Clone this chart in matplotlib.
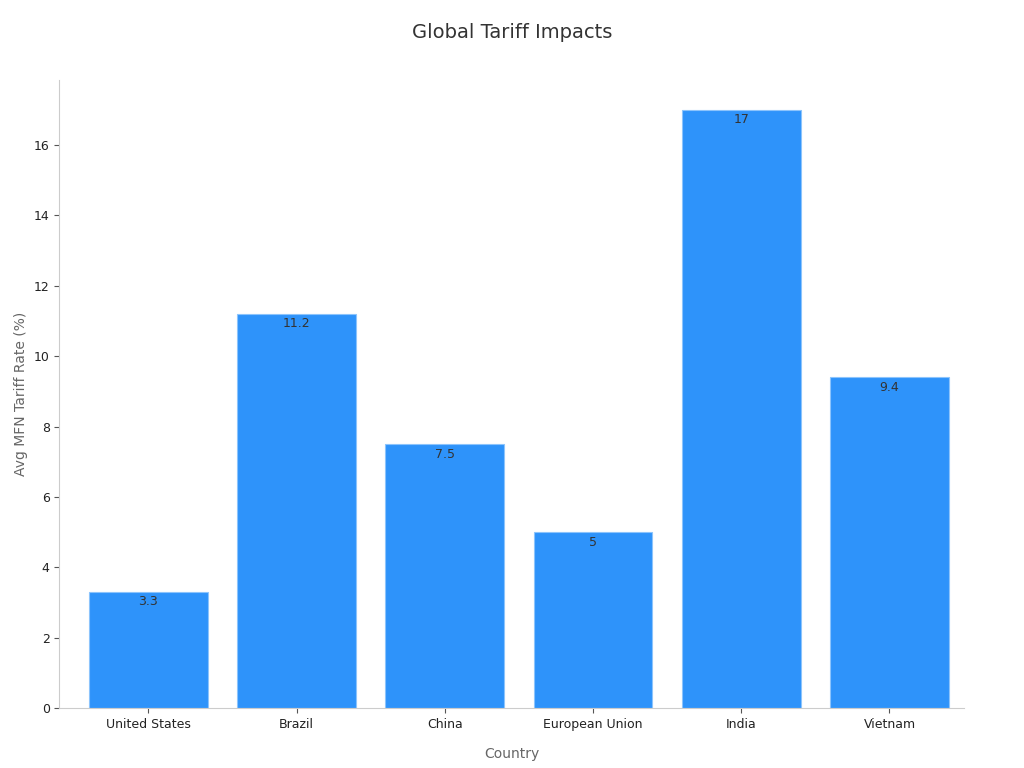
import matplotlib
matplotlib.use("Agg")
import matplotlib.pyplot as plt

countries = ["United States", "Brazil", "China", "European Union", "India", "Vietnam"]
rates = [3.3, 11.2, 7.5, 5, 17, 9.4]
labels = ["3.3", "11.2", "7.5", "5", "17", "9.4"]

fig = plt.figure(figsize=(10.24, 7.68), dpi=100)
ax = fig.add_axes([0.058, 0.078, 0.883, 0.818])
bars = ax.bar(countries, rates, width=0.8, color="#2E93FA", edgecolor="#8cc4fc", linewidth=0.8)
for b, l in zip(bars, labels):
    ax.text(b.get_x() + b.get_width()/2, b.get_height() - 0.1, l, ha="center", va="top",
            fontsize=9, color="#333333")
ax.set_xlim(-0.6, 5.5)
ax.set_ylim(0, 17.85)
ax.set_yticks(range(0, 17, 2))
for s in ["top", "right"]:
    ax.spines[s].set_visible(False)
for s in ["left", "bottom"]:
    ax.spines[s].set_color("#cccccc")
ax.tick_params(colors="#222222", labelsize=9)
ax.tick_params(axis="both", color="#555555")
ax.set_xlabel("Country", fontsize=10, color="#666666", labelpad=12)
ax.set_ylabel("Avg MFN Tariff Rate (%)", fontsize=10, color="#666666")
fig.suptitle("Global Tariff Impacts", fontsize=14, color="#333333", y=0.97)
fig.savefig("out.png")
